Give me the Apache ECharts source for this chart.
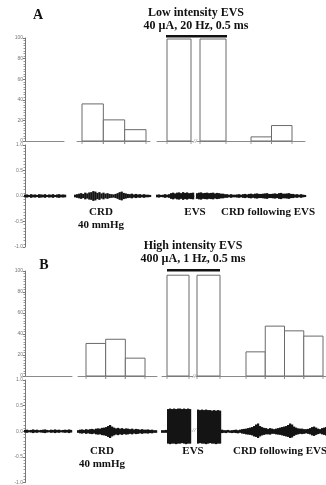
<!DOCTYPE html>
<html>
<head>
<meta charset="utf-8">
<script src="https://cdn.jsdelivr.net/npm/echarts@6/dist/echarts.min.js"></script>
<style>
  html, body { margin: 0; padding: 0; background: #fff; }
  #main { width: 326px; height: 485px; }
</style>
</head>
<body>
<div id="main"></div>
<script>
// bar heights (% of responses)
const crdA = [36, 20.5, 11];
const evsA = [99, 99];
const postA = [4, 15];
const crdB = [31, 35, 17];
const evsB = [96, 96];
const postB = [23, 47.5, 43, 38];

// EMG envelope (half amplitude, 2 px steps), null = break
const emgA0 = [0.02,0.025,0.015,0.03,0.02,0.025,0.015,0.03,0.025,0.02,0.03,0.015,0.025,0.02,0.03,0.015,0.025,0.03,0.02,0.025,0.02];
const emgA1 = [0.02,0.03,0.04,0.05,0.035,0.06,0.045,0.065,0.07,0.09,0.08,0.055,0.07,0.045,0.06,0.04,0.05,0.035,0.03,0.025,
  0.035,0.05,0.07,0.08,0.055,0.045,0.035,0.03,0.04,0.025,0.035,0.025,0.03,0.02,0.03,0.02,0.02,0.015];
const emgA2 = [0.02,0.025,0.015,0.02,0.03,0.02,0.03,
  0.05,0.06,0.045,0.06,0.065,0.05,0.07,0.055,0.065,0.05,0.055,0.06,
  null, 0.05,
  0.06,0.065,0.05,0.055,0.06,0.05,0.055,0.06,0.045,0.055,0.05,0.04,0.04,0.03,
  0.03,0.02,0.03,0.02,0.02,0.025,0.03,0.02,0.03,0.035,0.025,0.035,0.04,
  0.03,0.04,0.045,0.035,0.035,0.04,0.045,0.05,0.035,0.035,0.04,0.045,0.035,0.05,0.055,0.04,0.04,0.045,0.05,0.035,0.035,0.025,
  0.03,0.02,0.03,0.02,0.015];
const emgB0 = [0.02,0.025,0.015,0.02,0.03,0.02,0.025,0.015,0.02,0.025,0.03,0.02,0.015,0.025,0.02,0.03,0.02,0.025,0.015,0.02,0.025,0.02,0.03,0.02];
const emgB1 = [0.02,0.03,0.035,0.025,0.04,0.03,0.04,0.045,0.035,0.05,0.055,0.05,0.065,0.07,0.08,0.1,0.12,0.09,
  0.07,0.055,0.065,0.05,0.06,0.045,0.055,0.05,0.04,0.05,0.035,0.045,0.04,0.03,0.04,0.03,0.03,0.035,0.025,0.03,0.02,0.02];
// panel B, last segment: stimulation artefact is asymmetric, so upper and lower are kept apart
const emgB2Up = [0.02,0.02,0.025,
  0.43,0.44,0.43,0.44,0.43,0.44,0.44,0.43,0.44,0.43,0.44,0.43,
  null,null,null,
  0.42,0.41,0.42,0.41,0.42,0.41,0.41,0.4,0.41,0.4,0.41,0.4,
  0.03,
  0.02,0.02,0.025,0.015,0.02,0.025,0.03,0.02,0.03,
  0.04,0.045,0.05,0.06,0.07,0.08,0.1,0.13,0.15,0.1,
  0.08,0.065,0.06,0.045,0.06,0.05,0.04,0.05,0.06,0.07,
  0.08,0.09,0.1,0.12,0.15,0.13,0.09,0.07,0.055,0.05,
  0.05,0.04,0.04,0.045,0.06,0.08,0.09,0.07,0.05,0.04,0.06,0.07,0.08];
const emgB2Low = [0.02,0.02,0.02,
  0.23,0.24,0.23,0.23,0.24,0.23,0.23,0.22,0.23,0.24,0.23,0.23,
  null,null,null,
  0.23,0.22,0.23,0.23,0.24,0.23,0.22,0.23,0.23,0.24,0.23,0.23,
  0.025,
  0.02,0.025,0.015,0.02,0.025,0.02,0.025,0.03,0.02,
  0.035,0.04,0.05,0.055,0.06,0.07,0.09,0.1,0.12,0.09,
  0.07,0.06,0.05,0.05,0.055,0.04,0.04,0.05,0.055,0.06,
  0.07,0.08,0.09,0.1,0.12,0.11,0.08,0.06,0.05,0.04,
  0.045,0.04,0.03,0.04,0.05,0.07,0.08,0.06,0.045,0.035,0.05,0.06,0.07];

const barTicks = { min: 0, max: 100, interval: 20 };
const emgTicks = { min: -1, max: 1, interval: 0.5 };

const SERIF = '"Liberation Serif", "DejaVu Serif", serif';
const grids = [], xAxes = [], yAxes = [], series = [];

function yAxisFor(idx, ticks, first, fmt) {
  if (!first) return { gridIndex: idx, type: 'value', min: ticks.min, max: ticks.max, show: false };
  return {
    gridIndex: idx, type: 'value', min: ticks.min, max: ticks.max, interval: ticks.interval,
    axisLine: { show: true, onZero: false, lineStyle: { color: '#777', width: 1 } },
    axisTick: { show: true, length: 2, lineStyle: { color: '#777' } },
    minorTick: { show: true, splitNumber: 8, length: 1.5, lineStyle: { color: '#999' } },
    axisLabel: { fontSize: 5, color: '#777', margin: 2, formatter: fmt },
    splitLine: { show: false }
  };
}

function renderBar(params, api) {
  const p0 = api.coord([api.value(0), api.value(1)]);
  const p1 = api.coord([api.value(0) + 1, 0]);
  return {
    type: 'group',
    children: [
      { type: 'rect', shape: { x: p0[0], y: p0[1], width: p1[0] - p0[0], height: p1[1] - p0[1] },
        style: { fill: '#fff', stroke: '#6a6a6a', lineWidth: 1 } },
      { type: 'line', shape: { x1: p0[0], y1: p1[1], x2: p0[0], y2: p1[1] + 3 }, style: { stroke: '#888', lineWidth: 0.8 } },
      { type: 'line', shape: { x1: p1[0], y1: p1[1], x2: p1[0], y2: p1[1] + 3 }, style: { stroke: '#888', lineWidth: 0.8 } }
    ]
  };
}

function renderEmg(params, api) {
  const up = api.value(1), lo = api.value(2);
  if (isNaN(up) || isNaN(lo)) return null;
  const a = api.coord([api.value(0) - 0.5, up]);
  const b = api.coord([api.value(0) + 0.5, -lo]);
  return { type: 'rect', shape: { x: a[0], y: a[1] - 0.3, width: b[0] - a[0] + 0.2, height: b[1] - a[1] + 0.6 },
    style: { fill: '#141414' } };
}

// one baseline segment with its bars; barL/barR = pixel span occupied by the bars
function addBars(top, height, left, right, barL, barR, values, first) {
  const idx = grids.length;
  grids.push({ left: left, top: top, width: right - left, height: height });
  const n = values.length || 1;
  const unit = (barR - barL) / n;
  xAxes.push({
    gridIndex: idx, type: 'value', min: -(barL - left) / unit, max: n + (right - barR) / unit,
    axisLine: { show: true, onZero: false, lineStyle: { color: '#8a8a8a', width: 1 } },
    axisTick: { show: false }, axisLabel: { show: false }, splitLine: { show: false }
  });
  yAxes.push(yAxisFor(idx, barTicks, first, v => String(v)));
  if (values.length) {
    series.push({
      type: 'custom', xAxisIndex: idx, yAxisIndex: idx, renderItem: renderBar,
      encode: { x: 0, y: 1 }, data: values.map((v, i) => [i, v]), silent: true
    });
  }
}

function addEmg(top, height, left, right, up, low, first) {
  const idx = grids.length;
  grids.push({ left: left, top: top, width: right - left, height: height });
  xAxes.push({ gridIndex: idx, type: 'value', min: 0, max: up.length - 1, show: false });
  yAxes.push(yAxisFor(idx, emgTicks, first, v => v.toFixed(1)));
  series.push({
    type: 'custom', xAxisIndex: idx, yAxisIndex: idx, renderItem: renderEmg, silent: true, clip: false,
    encode: { x: 0, y: [1, 2] },
    data: up.map((v, i) => [i, v === null ? '-' : v, low[i] === null ? '-' : low[i]])
  });
}

// panel A
addBars(38, 103, 25, 64, 25, 64, [], true);
addBars(38, 103, 77, 150, 82, 146, crdA, false);
addBars(38, 103, 157, 193, 167, 191, evsA.slice(0, 1), false);
addBars(38, 103, 197, 228, 200, 226, evsA.slice(1), false);
addBars(38, 103, 228, 305, 251, 292, postA, false);
addEmg(145, 102, 25, 65, emgA0, emgA0, true);
addEmg(145, 102, 75, 150, emgA1, emgA1, false);
addEmg(145, 102, 157, 305, emgA2, emgA2, false);

// panel B
addBars(271, 105, 25, 72, 25, 72, [], true);
addBars(271, 105, 78, 157, 86, 145, crdB, false);
addBars(271, 105, 162, 193, 167, 189, evsB.slice(0, 1), false);
addBars(271, 105, 196, 226, 197, 220, evsB.slice(1), false);
addBars(271, 105, 226, 326, 246, 323, postB, false);
addEmg(380, 103, 25, 71, emgB0, emgB0, true);
addEmg(380, 103, 78, 156, emgB1, emgB1, false);
addEmg(380, 103, 162, 326, emgB2Up, emgB2Low, false);

function txt(x, y, text, size, align) {
  return { type: 'text', x: x, y: y, silent: true,
    style: { text: text, fill: '#111', font: 'bold ' + size + 'px ' + SERIF, align: align || 'center', verticalAlign: 'middle' } };
}
function brk(x, y) {
  return { type: 'text', x: x, y: y, silent: true,
    style: { text: '//', fill: '#777', font: 'italic 7px ' + SERIF, align: 'center', verticalAlign: 'middle' } };
}

const graphics = [
  txt(38, 15, 'A', 14),
  txt(196, 13, 'Low intensity EVS', 12),
  txt(196, 26, '40 \u00b5A, 20 Hz, 0.5 ms', 12),
  { type: 'rect', shape: { x: 166, y: 35, width: 61, height: 2.5 }, style: { fill: '#111' }, silent: true },
  txt(101, 212, 'CRD', 11),
  txt(101, 225, '40 mmHg', 11),
  txt(195, 212, 'EVS', 11),
  txt(268, 212, 'CRD following EVS', 11),
  brk(195, 141), brk(195, 197),

  txt(44, 265, 'B', 14),
  txt(193, 246, 'High intensity EVS', 12),
  txt(193, 259, '400 \u00b5A, 1 Hz, 0.5 ms', 12),
  { type: 'rect', shape: { x: 167, y: 269, width: 53, height: 2.5 }, style: { fill: '#111' }, silent: true },
  txt(102, 451, 'CRD', 11),
  txt(102, 464, '40 mmHg', 11),
  txt(193, 451, 'EVS', 11),
  txt(280, 451, 'CRD following EVS', 11),
  brk(194, 376), brk(194, 430)
];

const chart = echarts.init(document.getElementById('main'), null, { renderer: 'canvas' });
chart.setOption({
  animation: false,
  backgroundColor: '#fff',
  grid: grids,
  xAxis: xAxes,
  yAxis: yAxes,
  series: series,
  graphic: graphics
});
window.addEventListener('resize', () => chart.resize());
</script>
</body>
</html>
